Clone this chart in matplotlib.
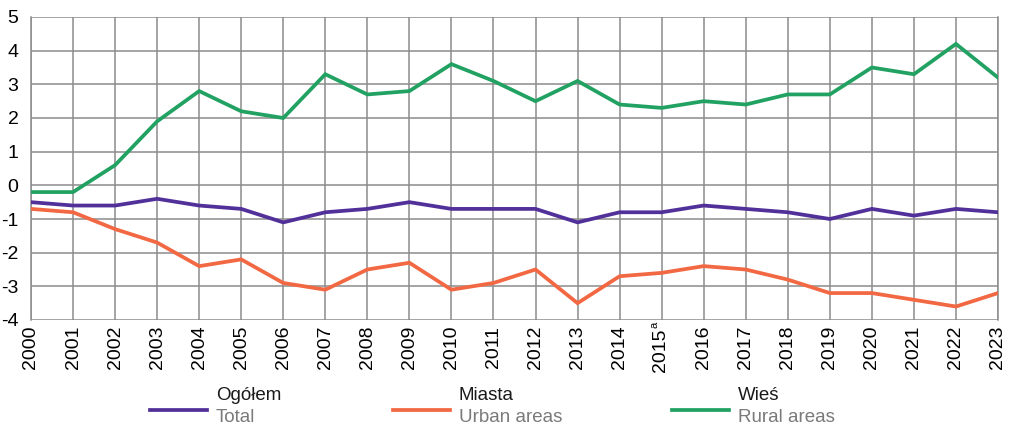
import matplotlib.pyplot as plt
import numpy as np
from matplotlib.lines import Line2D

plt.rcParams['font.family'] = ['Liberation Sans', 'DejaVu Sans']
plt.rcParams['axes.unicode_minus'] = False

# Data
years = list(range(2000, 2024))
year_labels = [str(y) if y != 2015 else '2015\u2009' for y in years]
total = [-0.5, -0.6, -0.6, -0.4, -0.6, -0.7, -1.1, -0.8, -0.7, -0.5, -0.7, -0.7,
         -0.7, -1.1, -0.8, -0.8, -0.6, -0.7, -0.8, -1.0, -0.7, -0.9, -0.7, -0.8]
urban = [-0.7, -0.8, -1.3, -1.7, -2.4, -2.2, -2.9, -3.1, -2.5, -2.3, -3.1, -2.9,
         -2.5, -3.5, -2.7, -2.6, -2.4, -2.5, -2.8, -3.2, -3.2, -3.4, -3.6, -3.2]
rural = [-0.2, -0.2, 0.6, 1.9, 2.8, 2.2, 2.0, 3.3, 2.7, 2.8, 3.6, 3.1,
         2.5, 3.1, 2.4, 2.3, 2.5, 2.4, 2.7, 2.7, 3.5, 3.3, 4.2, 3.2]

series_pl = ['Ogółem', 'Miasta', 'Wieś']
series_en = ['Total', 'Urban areas', 'Rural areas']
colors = ['#52309a', '#f26842', '#22a262']

W, H = 1009, 428
fig = plt.figure(figsize=(W / 100, H / 100), dpi=100)
ax = fig.add_axes([31 / W, 1 - 320 / H, (998 - 31) / W, (320 - 17) / H])

grid_col = '#8c8c8c'
for s, c in zip([total, urban, rural], colors):
    ax.plot(years, s, color=c, lw=2.7, solid_joinstyle='miter', zorder=3)

ax.set_xlim(2000, 2023)
ax.set_ylim(-4, 5)
ax.set_yticks(np.arange(-4, 6, 1))
ax.set_xticks(years)
ax.set_xticklabels(year_labels, rotation=90, fontsize=14)
ax.tick_params(axis='y', labelsize=14, length=0, pad=9)
ax.tick_params(axis='x', length=0, pad=4)
ax.grid(True, color=grid_col, lw=1.1)
for sp in ['top', 'bottom']:
    ax.spines[sp].set_visible(False)
for sp in ['left', 'right']:
    ax.spines[sp].set_color(grid_col)
    ax.spines[sp].set_linewidth(1.1)
ax.set_axisbelow(True)

# footnote mark on 2015
ax.text(2015 - 0.16, -0.005, 'a', transform=ax.get_xaxis_transform(),
        fontsize=8, rotation=90, ha='center', va='top')

# legend drawn by hand
leg_x = [150, 393, 672]
for x0, c, pl, en in zip(leg_x, colors, series_pl, series_en):
    fig.add_artist(Line2D([x0 / W, (x0 + 57) / W], [1 - 410 / H] * 2,
                          color=c, lw=2.7, transform=fig.transFigure))
    fig.text((x0 + 66) / W, 1 - 396 / H, pl, fontsize=13.5, color='#1a1a1a',
             va='center', ha='left')
    fig.text((x0 + 66) / W, 1 - 417 / H, en, fontsize=13.5, color='#7a7a7a',
             va='center', ha='left')

fig.savefig('out.png', dpi=100)
